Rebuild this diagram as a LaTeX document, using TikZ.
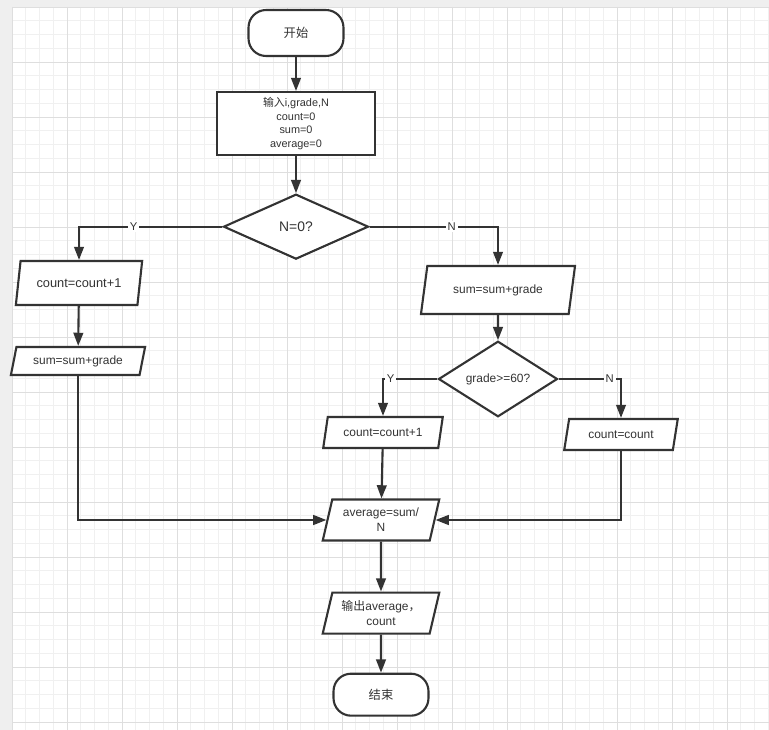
\documentclass[tikz,border=0pt]{standalone}
\usepackage{fontspec}
\setmainfont{Liberation Sans}
\newfontfamily\cjk{Noto Sans CJK SC}
\usepackage{tikz}
\usetikzlibrary{arrows.meta,positioning,shapes.geometric}
\definecolor{lineGray}{HTML}{333333}
\definecolor{paperGray}{HTML}{EFEFEF}
\definecolor{minorGrid}{HTML}{F0F0F0}
\definecolor{majorGrid}{HTML}{DEDEDE}

\begin{document}
\begin{tikzpicture}[x=0.02cm,y=-0.02cm,node distance=0.8cm,
            terminal/.style={draw=lineGray,line width=1.2pt,rounded corners=10pt,fill=white,text=lineGray,
                        minimum width=1.9cm,font=\fontsize{7}{8.5}\selectfont},
            procbox/.style={draw=lineGray,line width=1.2pt,fill=white,text=lineGray,align=center,
                        minimum width=3.16cm,minimum height=1.26cm,inner sep=1pt,font=\fontsize{6.2}{7.9}\selectfont},
            decision/.style={diamond,draw=lineGray,line width=1.2pt,fill=white,text=lineGray,
                        inner sep=0pt,font=\fontsize{6.6}{8}\selectfont},
            io/.style={trapezium,trapezium left angle=74,trapezium right angle=106,trapezium stretches=true,
                        draw=lineGray,line width=1.2pt,fill=white,text=lineGray,align=center,inner sep=1pt,
                        font=\fontsize{6.8}{8.5}\selectfont},
            lab/.style={fill=white,inner sep=1pt,text=lineGray,font=\fontsize{6.4}{7}\selectfont},
            arrow/.style={-{Triangle[length=7.5pt,width=5.5pt]},line width=1.2pt,draw=lineGray}]
            % canvas
            \useasboundingbox (0,0) rectangle (769,730);
            \fill[paperGray] (0,0) rectangle (769,730);
            \fill[white] (12,7) rectangle (769,730);
            \foreach \i in {0,...,55}
                \draw[minorGrid,line width=0.5pt] ({12+13.75*\i},7) -- ({12+13.75*\i},730);
            \foreach \j in {0,...,52}
                \draw[minorGrid,line width=0.5pt] (12,{7+13.75*\j}) -- (769,{7+13.75*\j});
            \foreach \i in {0,...,13}
                \draw[majorGrid,line width=0.5pt] ({12+55*\i},7) -- ({12+55*\i},730);
            \foreach \j in {0,...,13}
                \draw[majorGrid,line width=0.5pt] (12,{7+55*\j}) -- (769,{7+55*\j});
            % main column
            \node[terminal,minimum height=0.92cm] (start) at (296,33) {\cjk 开始};
            \node[procbox,below=0.68cm of start] (input) {{\cjk 输入}i,grade,N\\count=0\\sum=0\\average=0};
            \node[decision,below=0.74cm of input,minimum width=2.9cm,minimum height=1.3cm,
                  font=\fontsize{7.9}{8}\selectfont] (zero) {N=0?};
            % left branch
            \node[io,minimum width=2.54cm,minimum height=0.88cm,
                  font=\fontsize{7.3}{8.5}\selectfont] (cntL) at (79,283) {count=count+1};
            \node[io,minimum width=2.7cm,minimum height=0.56cm] (sumL) at (78,361) {sum=sum+grade};
            % right branch
            \node[io,minimum width=3.1cm,minimum height=0.96cm] (sumR) at (498,290) {sum=sum+grade};
            \node[decision,minimum width=2.38cm,minimum height=1.12cm,
                  font=\fontsize{6.8}{7}\selectfont] (pass) at (498,379) {grade>=60?};
            \node[io,minimum width=2.4cm,minimum height=0.62cm] (cntP) at (383,432.5) {count=count+1};
            \node[io,minimum width=2.28cm,minimum height=0.62cm] (cntF) at (621,434.5) {count=count};
            % end column
            \node[io,minimum width=2.34cm,minimum height=0.82cm] (avg) at (381,520) {average=sum/\\N};
            \node[io,below=1.0cm of avg,minimum width=2.34cm,minimum height=0.82cm] (output)
                {{\cjk 输出}average{\cjk ，}\\count};
            \node[terminal,below=0.76cm of output,minimum height=0.84cm] (stop) {\cjk 结束};
            % connectors
            \draw[arrow] (start)--(input);
            \draw[arrow] (input)--(zero);
            \draw[arrow] (zero.west) -| node[lab,pos=0.31] {Y} (cntL.north);
            \draw[arrow] (zero.east) -| node[lab,pos=0.32] {N} (sumR.north);
            \draw[arrow] (cntL)--(sumL);
            \draw[arrow] (sumR)--(pass);
            \draw[arrow] (pass.west) -| node[lab,pos=0.43] {Y} (cntP.north);
            \draw[arrow] (pass.east) -| node[lab,pos=0.41] {N} (cntF.north);
            \draw[arrow] (cntP)--(avg);
            \draw[arrow] (sumL.south) |- (avg.west);
            \draw[arrow] (cntF.south) |- (avg.east);
            \draw[arrow] (avg)--(output);
            \draw[arrow] (output)--(stop);
        \end{tikzpicture}
\end{document}
